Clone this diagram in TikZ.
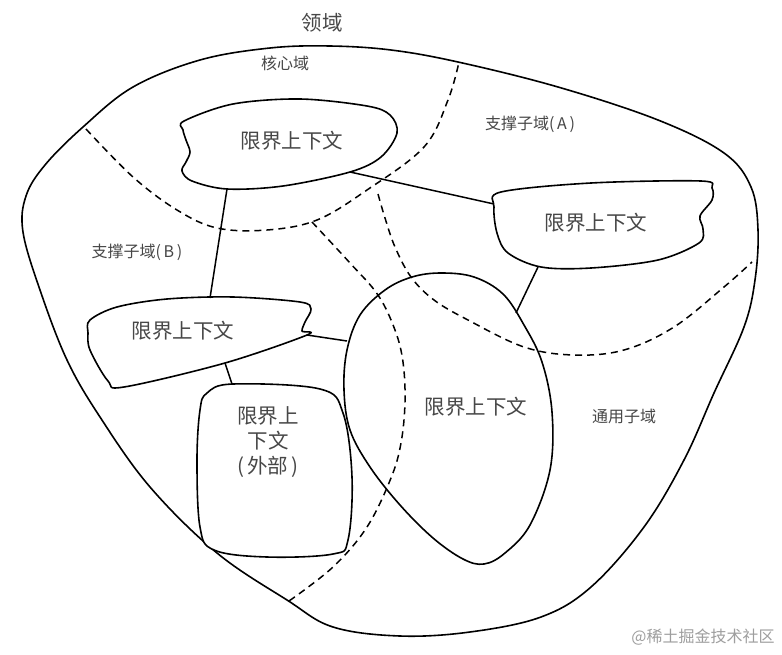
\documentclass[tikz,border=0pt]{standalone}
\usepackage{fontspec}
\setmainfont{Noto Sans CJK SC}
\begin{document}
\begin{tikzpicture}[x=1pt,y=-1pt]
\tikzset{
  outline/.style={line width=1.6pt, line join=round},
  subline/.style={line width=1.5pt, dash pattern=on 7pt off 5pt},
  link/.style={line width=1.5pt},
  smalllbl/.style={font=\fontsize{16}{16}\selectfont, text=black!72, inner sep=0pt},
  ctxlbl/.style={font=\fontsize{20.5}{25}\selectfont, text=black!72, align=center, inner sep=0pt},
  wmark/.style={font=\fontsize{16}{16}\selectfont, text=black!38, inner sep=0pt}
}
\useasboundingbox (0,0) rectangle (782,654);
\fill[white] (0,0) rectangle (782,654);

% outer domain
\draw[outline] plot[smooth cycle, tension=0.6] coordinates {
 (330,46) (391,50) (458,62) (558,87) (658,120) (724,153) (751,187) (758,230)
 (755,280) (744,327) (714,393) (684,460) (644,527) (591,587) (541,617) (470,632)
 (400,636) (333,627) (287,600) (217,553) (150,487) (100,417) (67,360) (40,290)
 (23,232) (26,196) (45,165) (83,127) (133,87) (200,60) (270,48)};

% subdomain boundaries
\draw[subline] plot[smooth, tension=0.6] coordinates {
 (86,129) (133,177) (177,210) (217,228) (267,230) (317,220) (367,190) (424,147) (448,100) (459,62)};
\draw[subline] plot[smooth, tension=0.6] coordinates {
 (378,194) (385,218) (395,247) (411,277) (434,300) (468,320) (524,347) (574,355)
 (624,350) (674,327) (724,287) (752,262)};
\draw[subline] plot[smooth, tension=0.6] coordinates {
 (312,222) (350,263) (378,295) (395,330) (403,362) (405,402) (401,443) (391,478)
 (367,527) (333,567) (289,601)};

% bounded contexts
\draw[outline, fill=white] plot[smooth cycle, tension=0.55] coordinates {
 (184,121) (233,104) (300,99) (367,106) (390,115) (397,133) (381,157) (350,172)
 (283,186) (227,189) (192,181) (182,171) (186,162) (190,152) (186,140) (183,130)};
\draw[outline, fill=white] plot[smooth cycle, tension=0.55] coordinates {
 (501,192) (591,183) (701,181) (712,188) (712,200) (700,216) (703,229) (699,243)
 (658,260) (591,268) (541,267) (508,253) (497,233) (494,207)};
\draw[outline, fill=white] plot[smooth cycle, tension=0.55] coordinates {
 (90,320) (117,307) (167,299) (233,297) (300,302) (311,309) (305,322) (302,331)
 (307,335) (225,363) (124,387) (108,381) (90,350) (88,333)};
\draw[outline, fill=white] plot[smooth cycle, tension=0.6] coordinates {
 (207,393) (233,384) (320,389) (343,413) (352,477) (348,540) (333,554) (267,557)
 (214,550) (200,527) (197,460) (200,410)};
\draw[outline] plot[smooth cycle, tension=0.6] coordinates {
 (441,273) (474,277) (503,294) (524,325) (542,362) (552,412) (550,470) (530,525)
 (505,553) (484,564) (463,559) (433,538) (400,505) (370,467) (350,430) (344,390)
 (347,350) (360,315) (385,290) (412,277)};

% connector end points
\coordinate (core-s) at (227,189);
\coordinate (core-e) at (350,172);
\coordinate (a-w) at (494,204);
\coordinate (a-s) at (538,267);
\coordinate (b-n) at (210,298);
\coordinate (b-e) at (307,335);
\coordinate (b-s) at (225,363);
\coordinate (ext-n) at (232,384);
\coordinate (gen-n) at (516,313);
\coordinate (gen-w) at (347,341);

\draw[link] (core-s) -- (b-n);
\draw[link] (core-e) -- (a-w);
\draw[link] (a-s) -- (gen-n);
\draw[link] (b-e) -- (gen-w);
\draw[link] (b-s) -- (ext-n);

% labels
\node[ctxlbl] (domain) at (322,23) {领域};
\node[smalllbl] (core) at (285,63) {核心域};
\node[smalllbl] (suba) at (530,124) {支撑子域(\,A\,)};
\node[smalllbl] (subb) at (137,252) {支撑子域(\,B\,)};
\node[smalllbl] (gen) at (624,416) {通用子域};
\node[ctxlbl] (ctx1) at (292,141) {限界上下文};
\node[ctxlbl] (ctx2) at (596,223) {限界上下文};
\node[ctxlbl] (ctx3) at (183,331) {限界上下文};
\node[ctxlbl] (ctx4) at (476,407) {限界上下文};
\node[ctxlbl] (ctx5) at (268,442) {限界上\\下文\\(\,外部\,)};
\node[wmark] (wm) at (703,637) {@稀土掘金技术社区};
\end{tikzpicture}
\end{document}
